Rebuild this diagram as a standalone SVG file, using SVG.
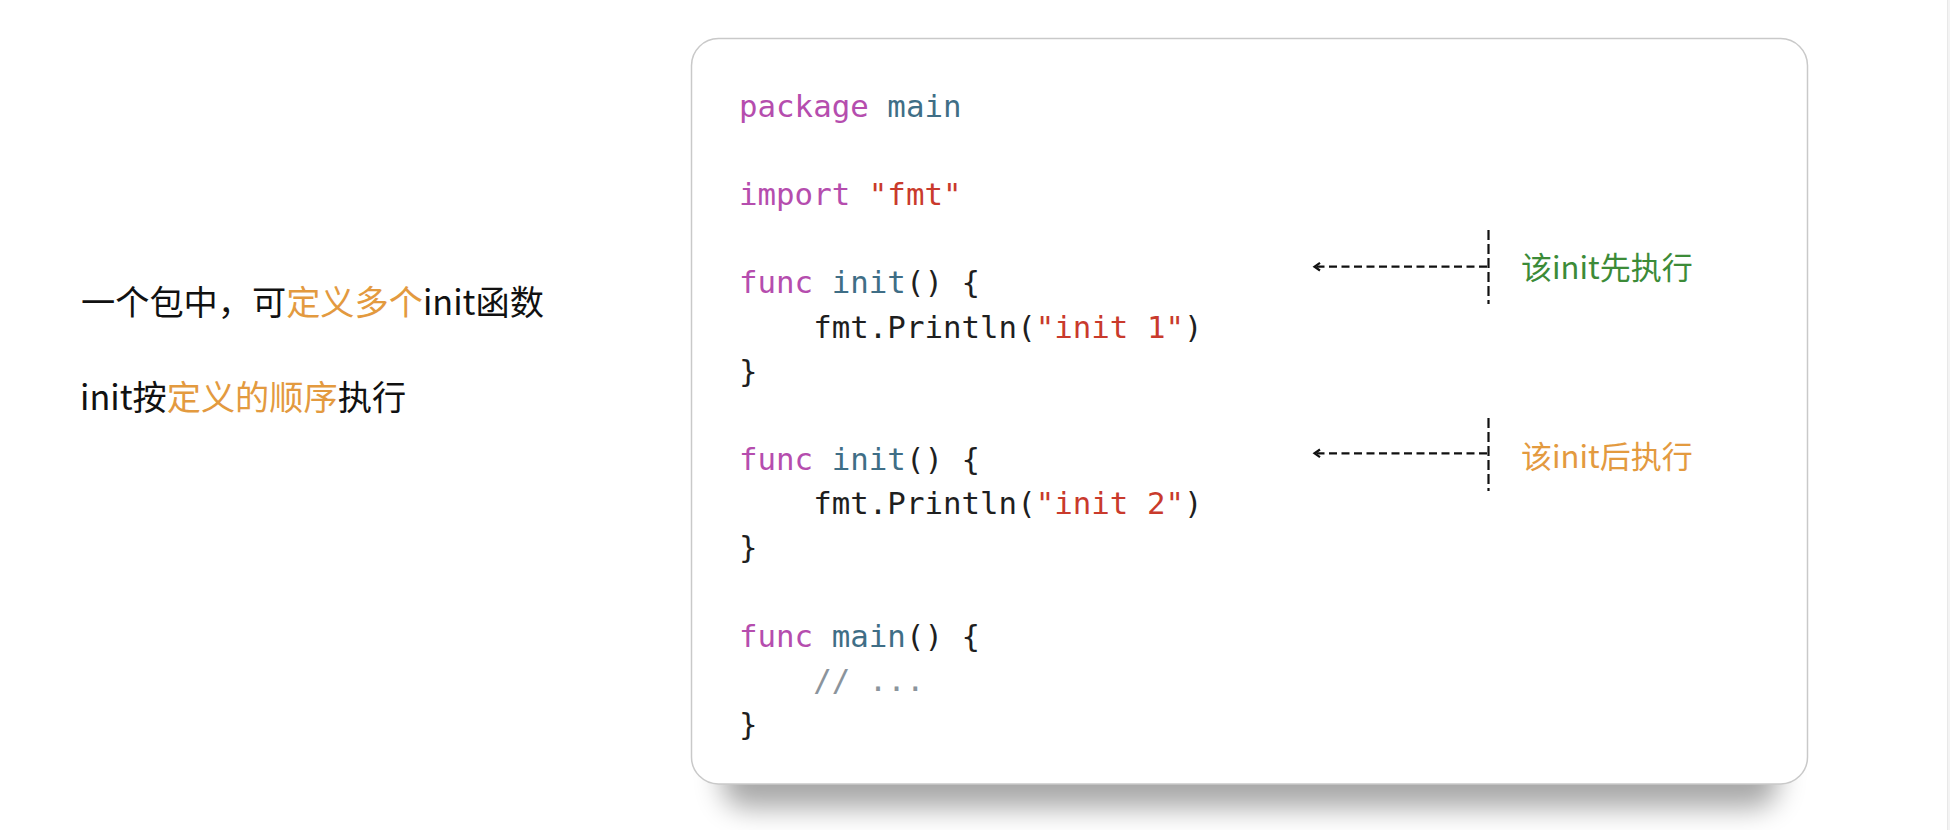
<svg xmlns="http://www.w3.org/2000/svg" width="1950" height="830" viewBox="0 0 1950 830">
<style>
.cn{font-family:"Noto Sans CJK SC","Noto Sans",sans-serif;}
.code{font-family:"DejaVu Sans Mono","Liberation Mono",monospace;font-size:30.8px;fill:#1f1f1f;}
.kw{fill:#B54DAE;}
.id{fill:#3F6E86;}
.str{fill:#C93A2C;}
.cm{fill:#8B949C;}
.blk{fill:#111111;}
.org{fill:#E39A3F;}
.grn{fill:#3C8B38;}
.dash{stroke:#111;stroke-width:2.2;fill:none;}
</style>
<defs>
<filter id="blur" x="-20%" y="-20%" width="140%" height="140%"><feGaussianBlur stdDeviation="14"/></filter>
<marker id="chev" markerUnits="userSpaceOnUse" markerWidth="12" markerHeight="12" viewBox="-9 -6 12 12" refX="0" refY="0" orient="auto">
<path d="M-6,-3.8 L-0.5,0 L-6,3.8" fill="none" stroke="#111" stroke-width="2.2"/>
</marker>
</defs>
<rect width="1950" height="830" fill="#ffffff"/>
<rect x="1948" y="0" width="2" height="830" fill="#f3f3f3"/>
<line x1="1947.5" y1="0" x2="1947.5" y2="830" stroke="#e8e8e8" stroke-width="1"/>

<g id="notes">
<text class="cn blk" x="81" y="315" font-size="34.2">一个包中，可<tspan class="org">定义多个</tspan>init函数</text>
<text class="cn blk" x="80" y="410" font-size="34.2">init按<tspan class="org">定义的顺序</tspan>执行</text>
</g>

<g id="code-card">
<rect x="722" y="70" width="1056" height="738" rx="24" fill="#000" opacity="0.34" filter="url(#blur)"/>
<rect x="691.5" y="38.5" width="1116" height="745.5" rx="27" fill="#ffffff" stroke="#c9c9c9" stroke-width="1.5"/>
<text class="code" x="739" y="116.5"><tspan class="kw">package</tspan> <tspan class="id">main</tspan></text>
<text class="code" x="739" y="205"><tspan class="kw">import</tspan> <tspan class="str">"fmt"</tspan></text>
<text class="code" x="739" y="293.3"><tspan class="kw">func</tspan> <tspan class="id">init</tspan>() {</text>
<text class="code" x="813.2" y="337.5">fmt.Println(<tspan class="str">"init 1"</tspan>)</text>
<text class="code" x="739" y="381.7">}</text>
<text class="code" x="739" y="470"><tspan class="kw">func</tspan> <tspan class="id">init</tspan>() {</text>
<text class="code" x="813.2" y="514.2">fmt.Println(<tspan class="str">"init 2"</tspan>)</text>
<text class="code" x="739" y="558.4">}</text>
<text class="code" x="739" y="646.8"><tspan class="kw">func</tspan> <tspan class="id">main</tspan>() {</text>
<text class="code cm" x="813.2" y="691">// ...</text>
<text class="code" x="739" y="735.2">}</text>
</g>

<g id="label-first">
<text class="cn grn" x="1521" y="279" font-size="31">该init先执行</text>
</g>
<g id="label-second">
<text class="cn org" x="1521" y="468" font-size="31">该init后执行</text>
</g>

<g id="connectors">
<line class="dash" x1="1488.5" y1="230" x2="1488.5" y2="304" stroke-dasharray="10,4"/>
<line class="dash" x1="1487" y1="266.7" x2="1314" y2="266.7" stroke-dasharray="8,4.5" marker-end="url(#chev)"/>
<line class="dash" x1="1488.5" y1="418" x2="1488.5" y2="491" stroke-dasharray="10,4"/>
<line class="dash" x1="1487" y1="453.3" x2="1314" y2="453.3" stroke-dasharray="8,4.5" marker-end="url(#chev)"/>
</g>
</svg>
